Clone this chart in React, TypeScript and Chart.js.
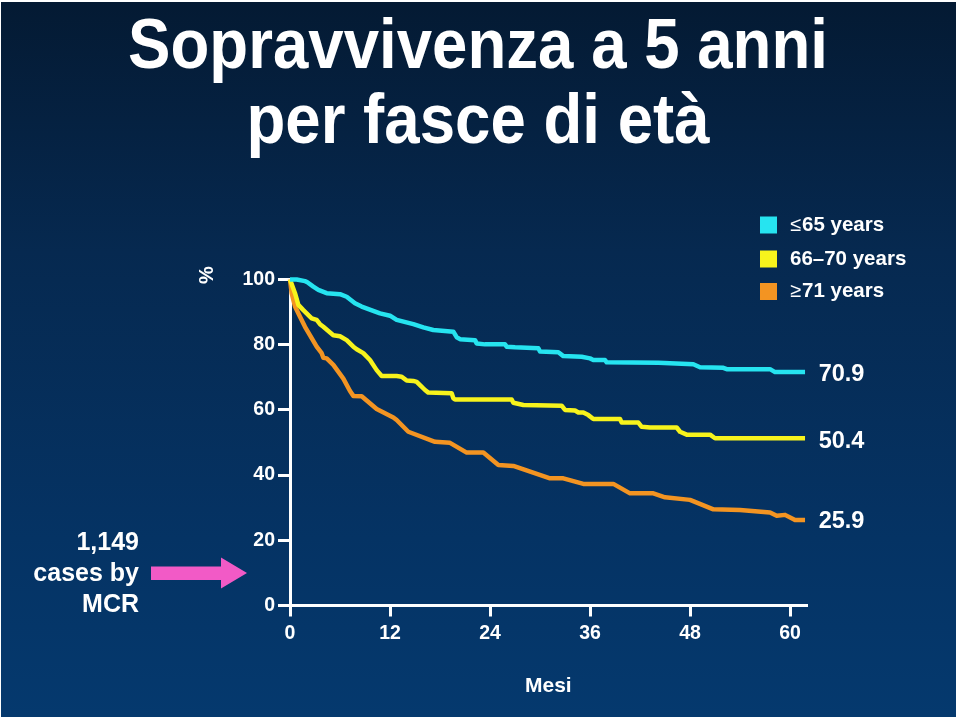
import React, { useEffect, useRef } from "react";
import { Chart, registerables } from "chart.js";

Chart.register(...registerables);

const FONT = "'Liberation Sans', Arial, Helvetica, sans-serif";

const TITLE_LINES = ["Sopravvivenza a 5 anni", "per fasce di età"];
const X_TICKS = [0, 12, 24, 36, 48, 60];
const Y_TICKS = [0, 20, 40, 60, 80, 100];
const X_TITLE = "Mesi";
const Y_TITLE = "%";
const SERIES_LABELS = ["≤65 years", "66–70 years", "≥71 years"];
const SERIES_COLORS = ["#26e4f0", "#f7f31c", "#f39422"];
const FINAL_VALUES = ["70.9", "50.4", "25.9"];
const SIDE_NOTE = ["1,149", "cases by", "MCR"];

// ≤65 years
const monthsYoung = [0, 0.8, 1.8, 2.0, 2.8, 3.4, 4.4, 6.0, 6.8, 7.8, 8.6, 10.8, 12.0, 12.8, 14.8, 16.0, 17.2, 19.6, 20.0, 20.4, 22.2, 22.4, 23.4, 25.8, 26.0, 27.0, 29.8, 30.0, 32.2, 32.8, 35.0, 36.0, 36.4, 37.8, 38.0, 44.2, 48.4, 49.2, 52.0, 52.4, 57.6, 58.2, 61.8];
const survYoung = [100, 100, 99.5, 99.3, 97.8, 96.8, 95.8, 95.5, 94.7, 92.7, 91.7, 89.6, 88.9, 87.6, 86.3, 85.3, 84.5, 84.0, 82.3, 81.7, 81.4, 80.4, 80.1, 80.1, 79.4, 79.2, 78.9, 77.9, 77.7, 76.5, 76.3, 75.8, 75.3, 75.3, 74.6, 74.5, 74.0, 73.1, 72.9, 72.5, 72.5, 71.6, 71.6];

// 66–70 years
const monthsMid = [0, 0.6, 1.0, 1.6, 2.6, 3.2, 3.6, 4.0, 5.2, 6.0, 6.8, 7.6, 8.0, 8.8, 9.6, 10.4, 11.0, 12.8, 13.4, 14.0, 14.8, 15.2, 15.6, 16.2, 16.6, 19.4, 19.6, 19.8, 26.6, 26.8, 28.0, 32.6, 33.0, 34.2, 34.6, 35.2, 35.8, 36.4, 39.6, 39.8, 41.8, 42.2, 43.2, 46.4, 46.8, 47.6, 50.4, 51.0, 61.8];
const survMid = [100, 95.8, 92.2, 90.6, 88.1, 87.6, 86.3, 85.5, 82.9, 82.6, 81.4, 79.4, 78.6, 77.4, 75.3, 72.2, 70.4, 70.4, 70.2, 69.0, 68.9, 68.6, 67.6, 66.1, 65.3, 65.1, 63.6, 63.2, 63.2, 62.2, 61.5, 61.3, 60.0, 59.8, 59.2, 59.2, 58.4, 57.2, 57.2, 56.1, 56.1, 54.8, 54.6, 54.6, 53.3, 52.4, 52.4, 51.3, 51.3];

// ≥71 years
const monthsOld = [0, 0.2, 0.6, 1.2, 1.8, 2.6, 3.2, 3.8, 4.0, 4.4, 5.2, 6.4, 7.2, 7.6, 8.6, 9.2, 10.4, 12.4, 12.8, 14.2, 17.4, 19.2, 21.2, 23.2, 25.0, 26.8, 31.2, 32.8, 35.2, 38.8, 40.8, 43.6, 45.0, 48.0, 50.8, 54.0, 57.6, 58.4, 59.4, 60.6, 61.8];
const survOld = [100, 95.8, 91.7, 88.6, 85.5, 82.0, 79.4, 77.4, 76.0, 75.8, 73.8, 69.6, 65.8, 64.3, 64.2, 62.9, 60.3, 57.7, 56.9, 53.3, 50.2, 49.9, 46.9, 46.9, 43.1, 42.8, 39.0, 39.0, 37.3, 37.3, 34.4, 34.4, 33.2, 32.4, 29.5, 29.3, 28.5, 27.5, 27.8, 26.2, 26.2];

const SERIES_MONTHS = [monthsYoung, monthsMid, monthsOld];
const SERIES_SURV = [survYoung, survMid, survOld];

const bgPlugin = {
  id: "bgPlugin",
  beforeDraw(chart: any) {
    const ctx = chart.ctx;
    ctx.save();
    ctx.fillStyle = "#ffffff";
    ctx.fillRect(0, 0, chart.width, chart.height);
    const g = ctx.createLinearGradient(0, 2, 0, 716);
    g.addColorStop(0, "#041a33");
    g.addColorStop(0.35, "#062950");
    g.addColorStop(0.75, "#053364");
    g.addColorStop(1, "#05396e");
    ctx.fillStyle = g;
    ctx.fillRect(1, 2, 955, 715);
    ctx.restore();
  },
};

const overlayPlugin = {
  id: "overlayPlugin",
  afterDraw(chart: any) {
    const ctx = chart.ctx;
    const xs = chart.scales.x;
    const ys = chart.scales.y;
    ctx.save();
    ctx.fillStyle = "#ffffff";

    // Title (condensed bold)
    ctx.font = `bold 70px ${FONT}`;
    ctx.textAlign = "center";
    ctx.textBaseline = "alphabetic";
    const w1 = ctx.measureText(TITLE_LINES[0]).width;
    const sx = 700 / w1;
    const baselines = [68, 143];
    TITLE_LINES.forEach((t, i) => {
      ctx.save();
      ctx.translate(478, baselines[i]);
      ctx.scale(sx, 1);
      ctx.fillText(t, 0, 0);
      ctx.restore();
    });

    // Y title "%"
    ctx.save();
    ctx.translate(207, 275);
    ctx.rotate(-Math.PI / 2);
    ctx.font = `bold 20px ${FONT}`;
    ctx.textAlign = "center";
    ctx.textBaseline = "middle";
    ctx.fillText(Y_TITLE, 0, 0);
    ctx.restore();

    // X title
    ctx.font = `bold 21px ${FONT}`;
    ctx.textAlign = "center";
    ctx.textBaseline = "middle";
    ctx.fillText(X_TITLE, (xs.left + xs.right) / 2, 686);

    // Legend
    const legY = [225, 259, 291.5];
    SERIES_LABELS.forEach((lab, i) => {
      ctx.fillStyle = SERIES_COLORS[i];
      ctx.fillRect(760, legY[i] - 8.5, 17, 17);
      ctx.fillStyle = "#ffffff";
      ctx.textAlign = "left";
      ctx.textBaseline = "middle";
      let x = 790;
      const first = lab.charAt(0);
      let rest = lab;
      if (first === "≤" || first === "≥") {
        ctx.font = `20px ${FONT}`;
        ctx.fillText(first, x, legY[i]);
        x += ctx.measureText(first).width + 1;
        rest = lab.slice(1);
      }
      ctx.font = `bold 20.5px ${FONT}`;
      ctx.fillText(rest, x, legY[i]);
    });

    // Final values
    ctx.font = `bold 23.5px ${FONT}`;
    ctx.textAlign = "left";
    ctx.textBaseline = "middle";
    const fx = xs.getPixelForValue(62) + 12;
    FINAL_VALUES.forEach((v) => {
      ctx.fillText(v, fx, ys.getPixelForValue(parseFloat(v)));
    });

    // Side note
    ctx.font = `bold 25px ${FONT}`;
    ctx.textAlign = "right";
    ctx.textBaseline = "alphabetic";
    const noteBase = [550, 581, 612];
    SIDE_NOTE.forEach((t, i) => ctx.fillText(t, 139, noteBase[i]));

    // Pink arrow
    ctx.fillStyle = "#f25ac6";
    ctx.beginPath();
    ctx.moveTo(151, 566.5);
    ctx.lineTo(221, 566.5);
    ctx.lineTo(221, 557.5);
    ctx.lineTo(247, 573);
    ctx.lineTo(221, 588.5);
    ctx.lineTo(221, 580);
    ctx.lineTo(151, 580);
    ctx.closePath();
    ctx.fill();

    ctx.restore();
  },
};

export default function App() {
  const canvasRef = useRef<HTMLCanvasElement | null>(null);

  useEffect(() => {
    if (!canvasRef.current) return;
    const datasets = SERIES_LABELS.map((label, i) => ({
      label,
      data: SERIES_MONTHS[i].map((m, j) => ({ x: m, y: SERIES_SURV[i][j] })),
      borderColor: SERIES_COLORS[i],
      backgroundColor: SERIES_COLORS[i],
      borderWidth: 4.5,
      pointRadius: 0,
      pointHoverRadius: 0,
      fill: false,
      tension: 0,
      clip: false as any,
      borderJoinStyle: "round" as const,
      borderCapStyle: "butt" as const,
    }));

    const tickFont = { family: FONT, size: 19.5, weight: "bold" as const };

    const chart = new Chart(canvasRef.current, {
      type: "line",
      data: { datasets },
      options: {
        responsive: false,
        animation: false,
        events: [],
        layout: { padding: { left: 0, top: 279.5, right: 153.3, bottom: 0 } },
        plugins: {
          legend: { display: false },
          tooltip: { enabled: false },
          title: { display: false },
        },
        scales: {
          x: {
            type: "linear",
            min: 0,
            max: 62,
            afterFit: (s: any) => {
              s.height = 114.5;
            },
            afterBuildTicks: (s: any) => {
              s.ticks = X_TICKS.map((v) => ({ value: v }));
            },
            grid: {
              display: true,
              drawOnChartArea: false,
              drawTicks: true,
              tickLength: 11,
              tickWidth: 3,
              tickColor: "#ffffff",
              color: "#ffffff",
              lineWidth: 3,
            },
            border: { display: true, color: "#ffffff", width: 3 },
            ticks: {
              color: "#ffffff",
              font: tickFont,
              padding: 5,
              maxRotation: 0,
              autoSkip: false,
            },
          },
          y: {
            type: "linear",
            min: 0,
            max: 100,
            afterFit: (s: any) => {
              s.width = 290;
            },
            afterBuildTicks: (s: any) => {
              s.ticks = Y_TICKS.map((v) => ({ value: v }));
            },
            grid: {
              display: true,
              drawOnChartArea: false,
              drawTicks: true,
              tickLength: 12,
              tickWidth: 3,
              tickColor: "#ffffff",
              color: "#ffffff",
              lineWidth: 3,
            },
            border: { display: true, color: "#ffffff", width: 3 },
            ticks: {
              color: "#ffffff",
              font: tickFont,
              padding: 3,
              autoSkip: false,
            },
          },
        },
      },
      plugins: [bgPlugin, overlayPlugin],
    });

    return () => chart.destroy();
  }, []);

  return (
    <div style={{ position: "absolute", left: 0, top: 0, width: 960, height: 720 }}>
      <canvas ref={canvasRef} width={960} height={720} style={{ display: "block" }} />
    </div>
  );
}
